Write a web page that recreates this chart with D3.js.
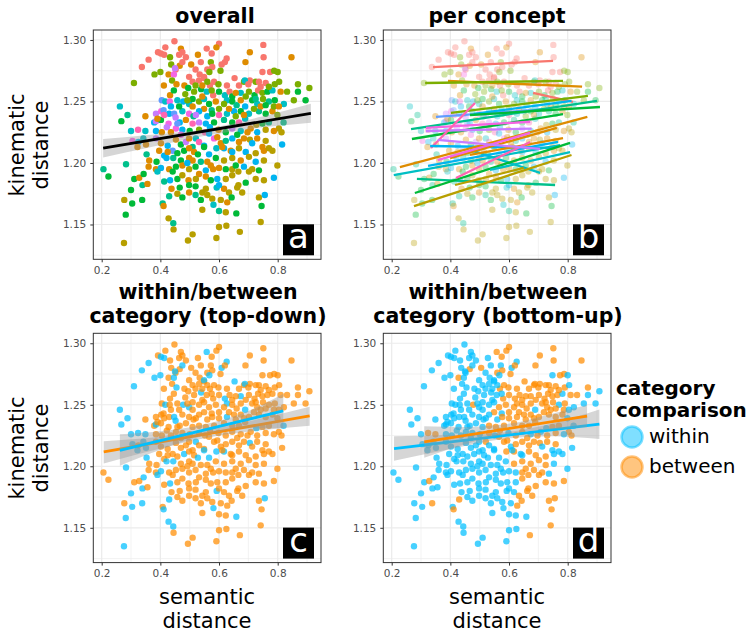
<!DOCTYPE html>
<html>
<head>
<meta charset="utf-8">
<script src="https://cdn.jsdelivr.net/npm/d3@7"></script>
<style>
  body { margin: 0; background: #fff; }
  text { font-family: "DejaVu Sans", Verdana, sans-serif; }
</style>
</head>
<body>
<svg id="chart" width="755" height="632"></svg>
<script>
// ---- data ----
const conceptColors = ["#F8766D", "#DE8C00", "#B79F00", "#7CAE00", "#00BA38", "#00C08B",
                       "#00BFC4", "#00B4F0", "#619CFF", "#C77CFF", "#F564E3", "#FF64B0"];
const categoryLabels = ["within", "between"];
const categoryColors = ["#00BFFF", "#FF8C00"];

const xTicks = [0.2, 0.4, 0.6, 0.8];
const xMinor = [0.3, 0.5, 0.7, 0.9];
const yTicks = [1.15, 1.20, 1.25, 1.30];
const yMinor = [1.125, 1.175, 1.225, 1.275];

// [semantic distance, kinematic distance, concept group, top-down within?, bottom-up within?]
const points = [
  [0.448,1.299,0,0,1],[0.600,1.297,0,0,0],[0.591,1.294,1,0,0],[0.751,1.296,0,0,0],[0.417,1.294,0,0,1],
  [0.470,1.293,1,0,1],[0.475,1.290,0,0,1],[0.558,1.293,0,1,0],[0.392,1.290,0,0,1],[0.402,1.289,0,1,1],
  [0.413,1.288,0,1,1],[0.433,1.286,3,0,1],[0.464,1.288,0,0,1],[0.528,1.288,1,0,1],[0.575,1.289,0,0,0],
  [0.705,1.290,1,0,0],[0.752,1.286,0,0,0],[0.847,1.286,1,0,0],
  [0.360,1.284,0,1,1],[0.487,1.286,0,0,1],[0.505,1.280,1,0,0],[0.538,1.282,0,0,1],[0.572,1.282,3,0,1],
  [0.626,1.285,0,1,1],[0.609,1.280,0,1,1],[0.620,1.282,0,0,0],[0.690,1.282,1,0,0],[0.337,1.278,0,1,1],
  [0.437,1.280,3,0,1],[0.466,1.279,1,0,0],[0.452,1.276,0,0,1],[0.450,1.277,9,1,1],[0.475,1.282,0,1,1],
  [0.577,1.278,0,0,0],[0.560,1.276,0,0,0],[0.605,1.275,3,0,0],[0.567,1.274,3,1,1],[0.380,1.272,3,1,1],
  [0.400,1.274,3,1,1],[0.428,1.272,1,0,0],[0.446,1.272,10,1,1],[0.520,1.276,0,0,1],[0.534,1.272,0,0,1],
  [0.748,1.274,0,0,1],[0.774,1.274,0,0,0],[0.788,1.275,3,0,0],[0.800,1.274,3,0,1],[0.653,1.269,0,1,0],
  [0.705,1.267,0,0,0],
  [0.310,1.265,3,1,1],[0.440,1.267,3,0,1],[0.455,1.264,1,1,1],[0.412,1.263,1,0,1],[0.510,1.266,0,0,1],
  [0.532,1.267,0,0,1],[0.520,1.263,3,0,1],[0.549,1.269,0,0,1],[0.549,1.270,0,1,1],[0.482,1.263,1,0,1],
  [0.495,1.261,4,0,1],[0.539,1.260,4,1,1],[0.569,1.263,0,0,0],[0.583,1.266,0,0,0],[0.598,1.264,3,0,0],
  [0.627,1.263,0,0,0],[0.668,1.263,0,0,0],[0.685,1.266,3,0,0],[0.688,1.267,6,1,0],[0.700,1.264,0,0,0],
  [0.725,1.266,3,0,0],[0.736,1.266,0,0,0],[0.759,1.265,0,0,0],[0.790,1.264,3,0,0],[0.805,1.266,3,0,1],
  [0.869,1.264,3,0,0],[0.908,1.261,3,0,1],[0.433,1.255,1,0,1],[0.446,1.259,4,0,1],[0.485,1.256,3,0,1],
  [0.558,1.258,6,0,1],[0.580,1.255,0,0,0],[0.575,1.259,3,0,1],[0.620,1.255,6,1,0],[0.636,1.258,0,0,0],
  [0.645,1.254,4,0,0],[0.674,1.257,6,1,0],[0.702,1.258,3,0,0],[0.721,1.255,4,0,0],[0.733,1.259,0,0,0],
  [0.748,1.257,3,0,0],[0.765,1.258,4,0,0],[0.782,1.259,6,0,1],[0.810,1.258,1,0,0],[0.832,1.258,3,0,0],
  [0.869,1.258,4,0,1],
  [0.262,1.246,6,1,1],[0.405,1.251,8,0,1],[0.417,1.250,6,1,1],[0.432,1.250,10,0,1],[0.458,1.251,6,0,1],
  [0.478,1.250,7,1,0],[0.498,1.248,6,1,1],[0.510,1.252,4,0,1],[0.532,1.250,3,0,1],[0.549,1.252,6,0,1],
  [0.566,1.248,4,0,0],[0.589,1.250,1,0,0],[0.549,1.244,1,0,0],[0.575,1.243,5,0,1],[0.627,1.251,6,1,0],
  [0.617,1.248,3,0,0],[0.645,1.250,4,0,0],[0.660,1.247,5,0,0],[0.674,1.251,1,0,0],[0.689,1.246,7,1,1],
  [0.713,1.251,4,0,0],[0.730,1.248,6,0,0],[0.750,1.252,3,0,0],[0.770,1.250,5,0,1],[0.790,1.251,4,0,0],
  [0.821,1.248,6,0,1],[0.855,1.251,3,0,1],[0.895,1.251,4,0,1],[0.288,1.239,5,1,1],[0.267,1.234,4,1,1],
  [0.385,1.240,9,0,1],[0.403,1.242,10,0,1],[0.411,1.243,8,0,1],[0.430,1.240,7,0,1],[0.447,1.240,8,1,1],
  [0.475,1.242,6,0,1],[0.498,1.240,10,0,1],[0.532,1.242,7,0,1],[0.513,1.238,5,0,1],[0.627,1.240,6,1,0],
  [0.600,1.239,11,0,0],[0.651,1.242,7,0,0],[0.674,1.242,4,0,0],[0.702,1.240,6,0,0],[0.736,1.242,5,0,0],
  [0.759,1.240,4,0,0],[0.782,1.242,1,0,0],[0.799,1.239,3,0,1],
  [0.349,1.238,1,0,1],[0.379,1.233,7,0,1],[0.385,1.234,9,1,1],[0.402,1.235,4,0,1],[0.428,1.232,10,0,1],
  [0.452,1.237,9,1,1],[0.466,1.233,7,0,1],[0.487,1.235,1,0,1],[0.510,1.232,11,0,1],[0.532,1.233,9,0,0],
  [0.555,1.232,7,0,0],[0.583,1.233,4,0,0],[0.617,1.235,5,0,0],[0.645,1.233,4,0,0],[0.668,1.233,11,0,0],
  [0.689,1.236,6,0,0],[0.708,1.228,1,0,1],[0.727,1.231,2,1,1],[0.748,1.232,4,0,0],[0.770,1.233,5,0,0],
  [0.820,1.233,5,1,1],[0.804,1.228,2,0,0],[0.300,1.226,6,1,1],[0.324,1.227,11,1,0],[0.349,1.226,6,1,0],
  [0.385,1.226,7,0,1],[0.405,1.225,1,0,1],[0.422,1.229,9,0,1],[0.453,1.228,10,0,1],[0.475,1.227,7,0,1],
  [0.500,1.226,4,0,1],[0.532,1.227,3,0,0],[0.552,1.225,11,0,1],[0.569,1.229,7,0,0],[0.598,1.227,1,0,1],
  [0.623,1.225,4,0,0],[0.645,1.228,9,0,0],[0.674,1.226,6,0,1],[0.697,1.225,1,0,0],[0.730,1.225,7,0,0],
  [0.759,1.227,2,0,0],[0.787,1.226,1,0,1],[0.813,1.225,2,0,0],
  [0.305,1.218,10,1,1],[0.325,1.217,7,0,1],[0.342,1.220,6,1,1],[0.351,1.215,1,1,1],[0.385,1.220,9,0,1],
  [0.402,1.216,1,0,1],[0.425,1.214,7,0,1],[0.453,1.219,1,0,1],[0.470,1.215,4,0,1],[0.487,1.217,9,0,1],
  [0.521,1.220,6,1,0],[0.510,1.213,5,0,1],[0.532,1.217,11,0,1],[0.549,1.214,7,0,1],[0.583,1.220,10,0,0],
  [0.606,1.216,1,0,1],[0.623,1.218,5,0,0],[0.645,1.220,7,0,0],[0.668,1.217,1,0,0],[0.705,1.219,2,1,0],
  [0.730,1.220,1,0,0],[0.759,1.218,2,0,0],[0.815,1.215,7,0,1],[0.322,1.213,1,1,1],[0.353,1.207,5,1,1],
  [0.396,1.210,1,0,1],[0.413,1.206,7,0,1],[0.442,1.210,8,0,1],[0.481,1.210,4,1,1],[0.515,1.209,1,0,1],
  [0.549,1.213,4,1,1],[0.591,1.212,6,1,0],[0.617,1.212,7,1,0],[0.640,1.210,1,0,1],[0.668,1.212,2,0,0],
  [0.691,1.209,7,0,0],[0.725,1.208,2,0,0],[0.753,1.210,1,0,1],[0.782,1.210,2,0,1],
  [0.362,1.202,1,0,1],[0.387,1.201,4,0,1],[0.421,1.204,7,1,1],[0.444,1.204,5,1,1],[0.470,1.202,4,0,1],
  [0.498,1.204,1,0,1],[0.528,1.207,4,1,1],[0.510,1.202,1,0,1],[0.538,1.201,5,0,1],[0.566,1.207,7,1,1],
  [0.560,1.201,1,0,1],[0.589,1.204,4,0,1],[0.617,1.202,2,0,0],[0.645,1.204,2,0,0],[0.674,1.202,1,0,0],
  [0.702,1.205,2,0,0],[0.725,1.201,7,0,0],[0.753,1.202,2,0,1],[0.206,1.195,5,0,1],[0.223,1.189,4,0,1],
  [0.283,1.199,5,1,1],[0.360,1.197,1,0,1],[0.385,1.195,1,0,1],[0.402,1.196,7,1,1],[0.430,1.195,1,0,1],
  [0.453,1.197,4,0,1],[0.475,1.198,1,0,1],[0.498,1.195,2,0,1],[0.520,1.197,4,0,1],[0.555,1.194,7,0,1],
  [0.580,1.195,1,0,1],[0.600,1.196,1,0,1],[0.623,1.195,4,0,1],[0.645,1.195,2,0,0],[0.666,1.193,2,0,0],
  [0.685,1.197,7,0,0],[0.713,1.195,2,0,0],[0.736,1.194,4,0,1],[0.799,1.198,2,0,1],
  [0.311,1.187,4,0,1],[0.328,1.188,1,0,0],[0.343,1.191,4,1,1],[0.339,1.182,5,1,1],[0.356,1.183,1,0,1],
  [0.390,1.193,6,1,1],[0.433,1.186,7,1,1],[0.413,1.185,5,0,1],[0.458,1.187,4,0,1],[0.475,1.190,2,0,1],
  [0.496,1.186,1,0,1],[0.555,1.189,1,0,1],[0.572,1.186,4,0,1],[0.594,1.187,7,0,1],[0.623,1.187,2,0,1],
  [0.645,1.190,2,0,0],[0.666,1.182,2,0,0],[0.691,1.184,4,0,0],[0.725,1.187,2,0,0],[0.753,1.186,2,0,0],
  [0.787,1.188,7,0,0],[0.466,1.180,4,0,1],[0.498,1.182,4,0,1],[0.520,1.181,4,0,1],[0.592,1.180,6,1,1],
  [0.555,1.179,2,0,1],[0.617,1.179,1,0,1],[0.634,1.176,2,0,0],[0.662,1.180,2,0,0],
  [0.300,1.178,4,1,1],[0.304,1.167,4,1,1],[0.277,1.170,2,0,1],[0.338,1.170,4,1,0],[0.438,1.179,1,0,1],
  [0.430,1.173,5,1,0],[0.458,1.175,2,0,1],[0.475,1.172,4,0,1],[0.520,1.174,5,0,1],[0.538,1.170,4,0,1],
  [0.560,1.174,2,0,1],[0.577,1.171,2,0,1],[0.581,1.166,6,1,1],[0.606,1.170,2,0,1],[0.628,1.168,1,0,0],
  [0.643,1.172,4,0,0],[0.659,1.159,4,1,1],[0.736,1.172,2,0,0],[0.756,1.174,7,1,0],[0.745,1.165,4,0,0],
  [0.408,1.167,5,0,1],[0.411,1.165,1,1,0],[0.282,1.158,4,1,1],[0.428,1.155,2,1,1],[0.444,1.151,5,1,1],
  [0.543,1.162,2,0,1],[0.600,1.161,5,0,1],[0.623,1.160,2,0,1],[0.445,1.146,2,0,1],[0.510,1.142,2,0,1],
  [0.494,1.137,2,0,1],[0.600,1.148,2,0,1],[0.625,1.149,2,0,1],[0.671,1.144,2,0,0],[0.591,1.139,2,0,1],
  [0.742,1.152,2,0,0],[0.276,1.135,2,1,1],
  // denser core, partly hidden under overlaps
  [0.498,1.270,0,0,1],[0.515,1.258,3,0,1],[0.543,1.263,1,0,1],[0.560,1.266,3,0,1],[0.510,1.246,1,0,1],
  [0.521,1.239,9,0,1],[0.560,1.238,7,0,1],[0.577,1.240,4,0,0],[0.600,1.244,3,0,0],[0.634,1.244,1,0,0],
  [0.657,1.238,3,0,0],[0.685,1.239,1,0,0],[0.719,1.244,3,0,0],[0.742,1.246,1,0,0],[0.759,1.247,4,0,0],
  [0.787,1.246,3,0,0],[0.804,1.246,1,0,1],[0.725,1.252,5,0,0],[0.691,1.254,3,0,0],[0.657,1.257,1,0,0],
  [0.742,1.262,0,0,0],[0.770,1.262,3,0,0],[0.600,1.258,4,0,0],[0.543,1.254,1,0,1],[0.492,1.251,3,0,1],
  [0.464,1.246,4,0,1],[0.436,1.246,7,0,1],[0.413,1.239,11,0,1],[0.390,1.236,1,0,1],[0.458,1.232,8,0,1],
  [0.436,1.225,1,0,1],[0.470,1.223,10,0,1],[0.498,1.220,1,0,1],[0.566,1.224,7,0,0],[0.594,1.221,1,0,0],
  [0.662,1.223,4,0,0],[0.685,1.220,1,0,0],[0.713,1.216,7,0,1],[0.748,1.213,1,0,1],[0.770,1.212,2,0,1],
  [0.611,1.213,1,0,1],[0.645,1.209,7,0,1],[0.498,1.212,1,0,1],[0.458,1.208,4,0,1],[0.425,1.209,1,0,1],
  [0.492,1.200,7,0,1],[0.572,1.198,1,0,1],[0.657,1.198,4,0,0],[0.702,1.193,2,0,0],[0.532,1.191,1,0,1],
  [0.442,1.193,4,0,1],[0.600,1.182,7,0,1],[0.521,1.187,2,0,1],[0.679,1.176,2,0,0],[0.498,1.176,1,0,1],
  [0.543,1.176,2,0,1]
];

// per-concept fits: [concept group, x start, y start, x end, y end]
const conceptLines = [
  [0, 0.341,1.2780, 0.750,1.2830], [1, 0.392,1.2667, 0.849,1.2620], [3, 0.314,1.2650, 0.784,1.2667],
  [0, 0.682,1.2570, 0.818,1.2496], [3, 0.402,1.2407, 0.869,1.2545], [8, 0.351,1.2374, 0.733,1.2439],
  [7, 0.480,1.2400, 0.813,1.2504], [5, 0.266,1.2276, 0.900,1.2504], [4, 0.269,1.2195, 0.784,1.2398],
  [4, 0.467,1.2390, 0.910,1.2455], [9, 0.317,1.2260, 0.677,1.2280], [10, 0.317,1.2285, 0.672,1.2335],
  [11, 0.334,1.2122, 0.484,1.2488], [7, 0.331,1.2138, 0.757,1.2122], [6, 0.467,1.2106, 0.706,1.1919],
  [1, 0.228,1.1967, 0.867,1.2374], [1, 0.399,1.2040, 0.763,1.2285], [1, 0.467,1.2065, 0.784,1.2203],
  [6, 0.207,1.1902, 0.774,1.2146], [7, 0.324,1.1976, 0.767,1.2171], [5, 0.286,1.1870, 0.757,1.1821],
  [4, 0.279,1.1756, 0.808,1.2163], [2, 0.276,1.1650, 0.813,1.2065], [11, 0.419,1.1878, 0.672,1.2171],
  [2, 0.416,1.1821, 0.650,1.1960], [6, 0.535,1.1943, 0.808,1.2089], [10, 0.357,1.2024, 0.672,1.2244],
  [9, 0.357,1.2187, 0.706,1.2114]
];

// overall fit and its confidence ribbon [x, lower, upper]
const overallFit = [[0.205, 1.2120], [0.913, 1.2404]];
const overallBand = [[0.205,1.2045,1.2195],[0.35,1.2120,1.2225],[0.55,1.2220,1.2275],[0.75,1.2290,1.2380],[0.913,1.2328,1.2482]];

// top-down within / between fits
const tdWithinFit = [[0.262, 1.2130], [0.819, 1.2450]];
const tdWithinBand = [[0.262,1.2005,1.2260],[0.4,1.2135,1.2285],[0.55,1.2250,1.2340],[0.7,1.2310,1.2450],[0.819,1.2310,1.2590]];
const tdBetweenFit = [[0.207, 1.2117], [0.909, 1.2410]];
const tdBetweenBand = [[0.207,1.2022,1.2204],[0.4,1.2145,1.2240],[0.56,1.2232,1.2296],[0.75,1.2295,1.2392],[0.909,1.2329,1.2484]];

// bottom-up within / between fits
const buWithinFit = [[0.208, 1.2144], [0.908, 1.2342]];
const buWithinBand = [[0.208,1.2044,1.2244],[0.4,1.2140,1.2255],[0.58,1.2222,1.2275],[0.75,1.2245,1.2350],[0.908,1.2222,1.2462]];
const buBetweenFit = [[0.311, 1.2198], [0.866, 1.2408]];
const buBetweenBand = [[0.311,1.2070,1.2326],[0.45,1.2180,1.2320],[0.6,1.2265,1.2345],[0.75,1.2300,1.2430],[0.866,1.2318,1.2498]];

// ---- layout ----
const svg = d3.select("#chart");
const W = 227.7, H = 229.3;
const x = d3.scaleLinear().domain([0.1714, 0.9476]).range([0, W]);
const y = d3.scaleLinear().domain([1.1217, 1.3081]).range([H, 0]);

const lineGen = d3.line().x(d => x(d[0])).y(d => y(d[1]));
const bandGen = d3.area().x(d => x(d[0])).y0(d => y(d[1])).y1(d => y(d[2])).curve(d3.curveMonotoneX);

function makePanel(left, top) {
  const g = svg.append("g").attr("transform", `translate(${left},${top})`);
  g.append("rect").attr("width", W).attr("height", H).attr("fill", "#fff");

  g.selectAll(".vminor").data(xMinor).join("line")
    .attr("x1", d => x(d)).attr("x2", d => x(d)).attr("y1", 0).attr("y2", H)
    .attr("stroke", "#EBEBEB").attr("stroke-width", 0.6);
  g.selectAll(".hminor").data(yMinor).join("line")
    .attr("y1", d => y(d)).attr("y2", d => y(d)).attr("x1", 0).attr("x2", W)
    .attr("stroke", "#EBEBEB").attr("stroke-width", 0.6);
  g.selectAll(".vmajor").data(xTicks).join("line")
    .attr("x1", d => x(d)).attr("x2", d => x(d)).attr("y1", 0).attr("y2", H)
    .attr("stroke", "#EBEBEB").attr("stroke-width", 1.2);
  g.selectAll(".hmajor").data(yTicks).join("line")
    .attr("y1", d => y(d)).attr("y2", d => y(d)).attr("x1", 0).attr("x2", W)
    .attr("stroke", "#EBEBEB").attr("stroke-width", 1.2);

  const clip = "clip" + Math.round(left) + "_" + Math.round(top);
  g.append("clipPath").attr("id", clip).append("rect").attr("width", W).attr("height", H);
  const plot = g.append("g").attr("clip-path", `url(#${clip})`);
  return { g, plot };
}

function finishPanel(g, letter) {
  g.append("rect").attr("width", W).attr("height", H)
    .attr("fill", "none").attr("stroke", "#333").attr("stroke-width", 1);

  const ax = g.append("g")
    .call(d3.axisLeft(y).tickValues(yTicks).tickFormat(d3.format(".2f"))
      .tickSizeInner(3).tickSizeOuter(0).tickPadding(4));
  const bx = g.append("g").attr("transform", `translate(0,${H})`)
    .call(d3.axisBottom(x).tickValues(xTicks).tickFormat(d3.format(".1f"))
      .tickSizeInner(3).tickSizeOuter(0).tickPadding(4));
  [ax, bx].forEach(a => {
    a.select(".domain").remove();
    a.selectAll(".tick line").attr("stroke", "#333");
    a.selectAll(".tick text").attr("fill", "#4D4D4D")
      .style("font-size", "10.5px").style("font-family", "'DejaVu Sans', sans-serif");
  });

  g.append("rect").attr("x", W - 38).attr("y", H - 35).attr("width", 31).attr("height", 31)
    .attr("fill", "#000");
  g.append("text").attr("x", W - 22.5).attr("y", H - 11)
    .attr("text-anchor", "middle").attr("fill", "#fff")
    .style("font-size", "34px").text(letter);
}

function drawFit(plot, band, fit, color, width) {
  plot.append("path").datum(band).attr("d", bandGen)
    .attr("fill", "#999999").attr("fill-opacity", 0.4);
  plot.append("path").datum(fit).attr("d", lineGen)
    .attr("stroke", color).attr("stroke-width", width).attr("fill", "none");
}

// ---- panel a: overall ----
const pa = makePanel(93.3, 30);
pa.plot.selectAll("circle").data(points).join("circle")
  .attr("cx", d => x(d[0])).attr("cy", d => y(d[1])).attr("r", 3.2)
  .attr("fill", d => conceptColors[d[2]]);
drawFit(pa.plot, overallBand, overallFit, "#000", 2.8);
finishPanel(pa.g, "a");

// ---- panel b: per concept ----
const pb = makePanel(383.3, 30);
pb.plot.selectAll("circle").data(points).join("circle")
  .attr("cx", d => x(d[0])).attr("cy", d => y(d[1])).attr("r", 3.2)
  .attr("fill", d => conceptColors[d[2]]).attr("fill-opacity", 0.35);
pb.plot.selectAll(".cline").data(conceptLines).join("line")
  .attr("x1", d => x(d[1])).attr("y1", d => y(d[2]))
  .attr("x2", d => x(d[3])).attr("y2", d => y(d[4]))
  .attr("stroke", d => conceptColors[d[0]]).attr("stroke-width", 2.3);
finishPanel(pb.g, "b");

// ---- panel c: top-down categories ----
const pc = makePanel(93.3, 333.3);
pc.plot.selectAll("circle").data(points).join("circle")
  .attr("cx", d => x(d[0])).attr("cy", d => y(d[1])).attr("r", 3.2)
  .attr("fill", d => categoryColors[d[3] ? 0 : 1]).attr("fill-opacity", 0.72);
drawFit(pc.plot, tdBetweenBand, tdBetweenFit, categoryColors[1], 2.8);
drawFit(pc.plot, tdWithinBand, tdWithinFit, categoryColors[0], 2.8);
finishPanel(pc.g, "c");

// ---- panel d: bottom-up categories ----
const pd = makePanel(383.3, 333.3);
pd.plot.selectAll("circle").data(points).join("circle")
  .attr("cx", d => x(d[0])).attr("cy", d => y(d[1])).attr("r", 3.2)
  .attr("fill", d => categoryColors[d[4] ? 0 : 1]).attr("fill-opacity", 0.72);
drawFit(pd.plot, buWithinBand, buWithinFit, categoryColors[0], 2.8);
drawFit(pd.plot, buBetweenBand, buBetweenFit, categoryColors[1], 2.8);
finishPanel(pd.g, "d");

// ---- titles ----
function title(lines, cx, baseline) {
  lines.forEach((t, i) => {
    svg.append("text").attr("x", cx).attr("y", baseline + i * 24)
      .attr("text-anchor", "middle").style("font-size", "20.5px").style("font-weight", "bold")
      .text(t);
  });
}
title(["overall"], 215, 23);
title(["per concept"], 497, 23);
title(["within/between", "category (top-down)"], 208, 299);
title(["within/between", "category (bottom-up)"], 498, 299);

function yTitle(cy) {
  ["kinematic", "distance"].forEach((t, i) => {
    svg.append("text").attr("transform", `translate(${24 + i * 24},${cy}) rotate(-90)`)
      .attr("text-anchor", "middle").style("font-size", "21px").text(t);
  });
}
yTitle(145);
yTitle(448);

function xTitle(cx) {
  ["semantic", "distance"].forEach((t, i) => {
    svg.append("text").attr("x", cx).attr("y", 604 + i * 24)
      .attr("text-anchor", "middle").style("font-size", "21px").text(t);
  });
}
xTitle(207);
xTitle(497);

// ---- legend ----
const legend = svg.append("g");
["category", "comparison"].forEach((t, i) => {
  legend.append("text").attr("x", 616).attr("y", 395 + i * 22)
    .style("font-size", "20px").style("font-weight", "bold").text(t);
});
categoryLabels.forEach((lab, i) => {
  legend.append("circle").attr("cx", 632).attr("cy", 437 + i * 30).attr("r", 10.5)
    .attr("fill", categoryColors[i]).attr("fill-opacity", 0.5)
    .attr("stroke", categoryColors[i]).attr("stroke-opacity", 0.5).attr("stroke-width", 2.5);
  legend.append("text").attr("x", 649).attr("y", 443 + i * 30)
    .style("font-size", "20px").text(lab);
});
</script>
</body>
</html>
